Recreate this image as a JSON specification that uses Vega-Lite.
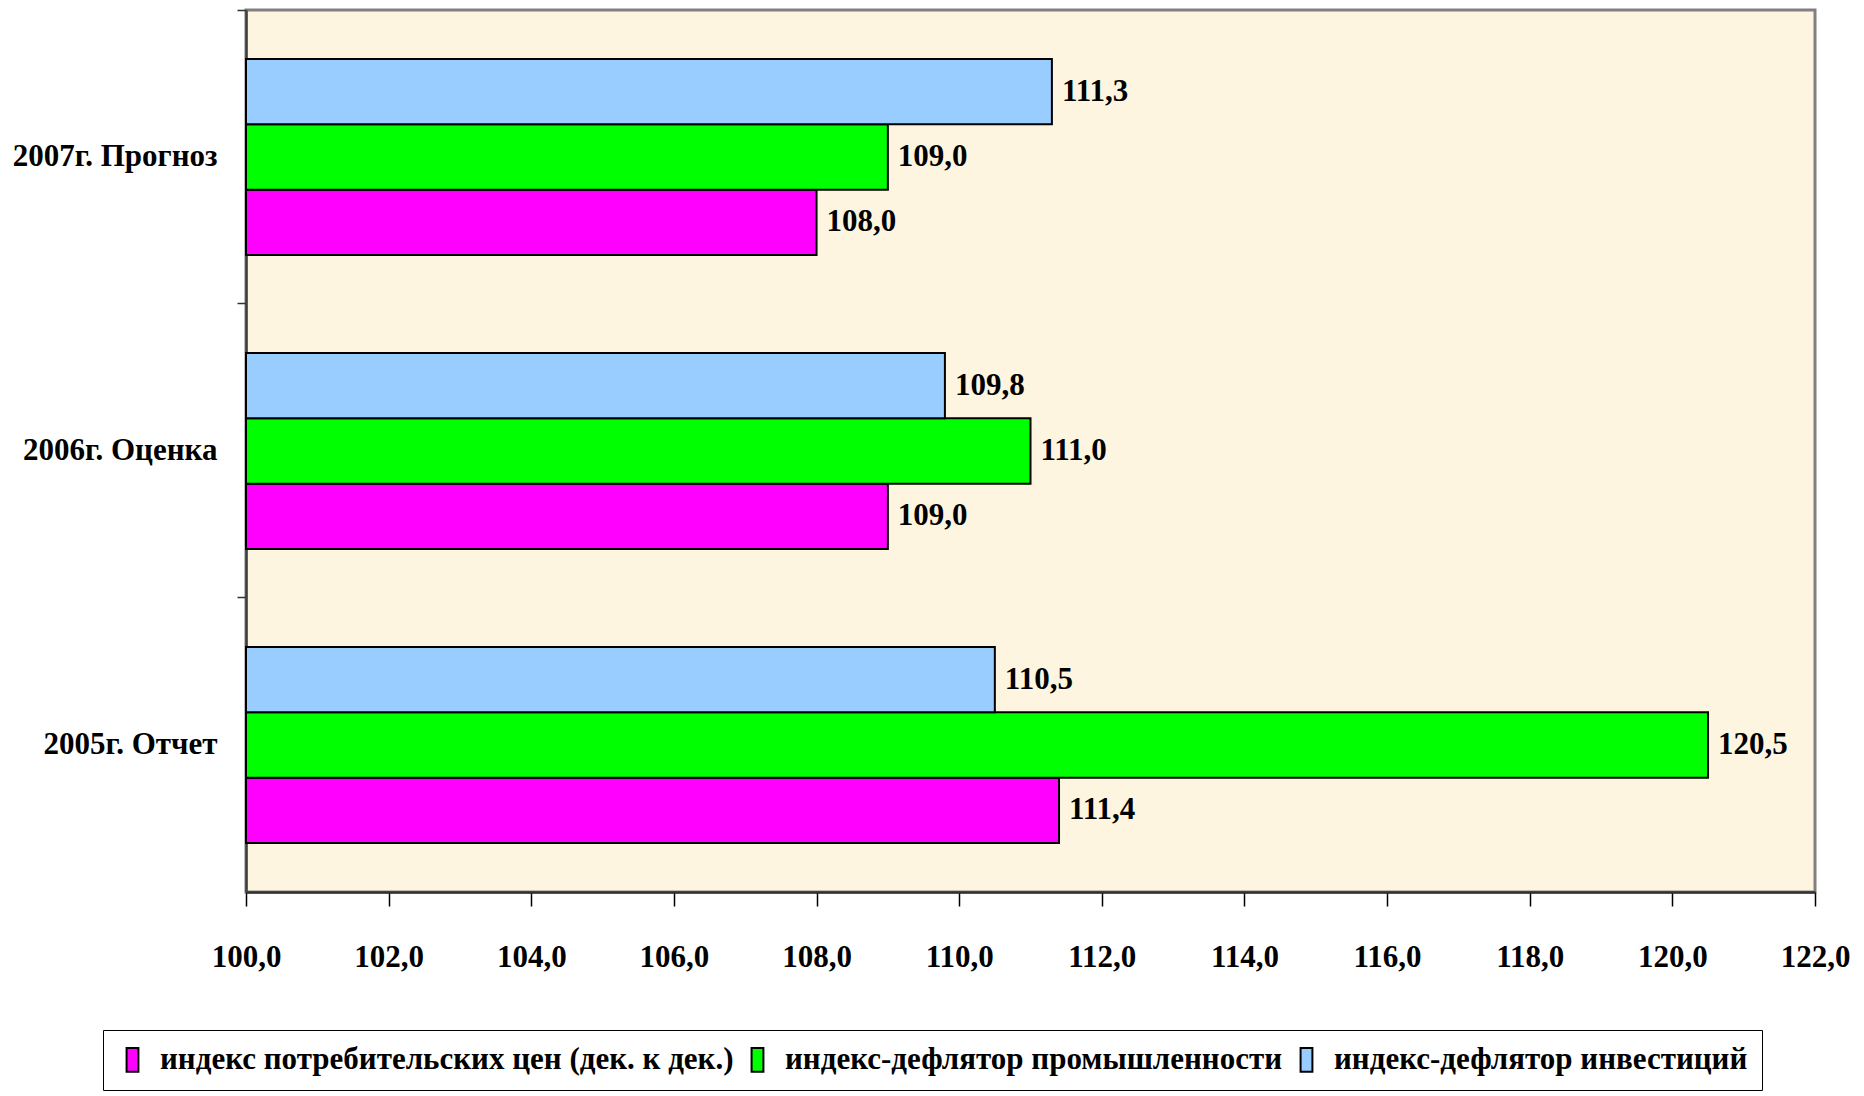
{
  "$schema": "https://vega.github.io/schema/vega-lite/v6.json",
  "width": 1569,
  "height": 882,
  "autosize": {"type": "none"},
  "padding": {"left": 246, "top": 10, "right": 49, "bottom": 204},
  "background": "white",
  "data": {
    "values": [
      {"year": "2007г. Прогноз", "series": "индекс потребительских цен (дек. к дек.)", "value": 108.0},
      {"year": "2007г. Прогноз", "series": "индекс-дефлятор промышленности", "value": 109.0},
      {"year": "2007г. Прогноз", "series": "индекс-дефлятор инвестиций", "value": 111.3},
      {"year": "2006г. Оценка", "series": "индекс потребительских цен (дек. к дек.)", "value": 109.0},
      {"year": "2006г. Оценка", "series": "индекс-дефлятор промышленности", "value": 111.0},
      {"year": "2006г. Оценка", "series": "индекс-дефлятор инвестиций", "value": 109.8},
      {"year": "2005г. Отчет", "series": "индекс потребительских цен (дек. к дек.)", "value": 111.4},
      {"year": "2005г. Отчет", "series": "индекс-дефлятор промышленности", "value": 120.5},
      {"year": "2005г. Отчет", "series": "индекс-дефлятор инвестиций", "value": 110.5}
    ]
  },
  "encoding": {
    "y": {
      "field": "year",
      "type": "nominal",
      "sort": ["2007г. Прогноз", "2006г. Оценка", "2005г. Отчет"],
      "scale": {"paddingInner": 0.3333, "paddingOuter": 0.1667},
      "axis": {
        "title": null,
        "labelFont": "Liberation Serif",
        "labelFontWeight": "bold",
        "labelFontSize": 31,
        "labelColor": "black",
        "labelPadding": 20,
        "labelLimit": 1000,
        "bandPosition": -0.25,
        "tickSize": 9,
        "tickColor": "#333333",
        "tickWidth": 1.5,
        "domainColor": "#404040",
        "domainWidth": 2.5
      }
    },
    "yOffset": {
      "field": "series",
      "type": "nominal",
      "sort": ["индекс-дефлятор инвестиций", "индекс-дефлятор промышленности", "индекс потребительских цен (дек. к дек.)"],
      "scale": {"paddingInner": 0, "paddingOuter": 0}
    },
    "x": {
      "field": "value",
      "type": "quantitative",
      "scale": {"domain": [100, 122], "zero": false, "nice": false},
      "axis": {
        "title": null,
        "values": [100, 102, 104, 106, 108, 110, 112, 114, 116, 118, 120, 122],
        "format": ".1f",
        "labelFont": "Liberation Serif",
        "labelFontWeight": "bold",
        "labelFontSize": 31,
        "labelColor": "black",
        "labelPadding": 36,
        "labelFlush": false,
        "labelBound": false,
        "labelOverlap": false,
        "tickSize": 14,
        "tickColor": "black",
        "tickWidth": 1.5,
        "domainColor": "#303030",
        "domainWidth": 2.5,
        "grid": false
      }
    }
  },
  "layer": [
    {
      "mark": {"type": "bar", "stroke": "black", "strokeWidth": 2},
      "encoding": {
        "x2": {"datum": 100},
        "color": {
          "field": "series",
          "type": "nominal",
          "scale": {
            "domain": ["индекс потребительских цен (дек. к дек.)", "индекс-дефлятор промышленности", "индекс-дефлятор инвестиций"],
            "range": ["#FF00FF", "#00FF00", "#99CCFF"]
          },
          "legend": {
            "title": null,
            "orient": "none",
            "legendX": -143,
            "legendY": 1020,
            "direction": "horizontal",
            "fillColor": "white",
            "strokeColor": "black",
            "padding": 14,
            "labelFont": "Liberation Serif",
            "labelFontWeight": "bold",
            "labelFontSize": 31,
            "labelColor": "black",
            "labelLimit": 1000,
            "labelOffset": 12,
            "columnPadding": 8,
            "symbolType": "M-0.5,-1H0.5V1H-0.5Z",
            "symbolSize": 560,
            "symbolStrokeColor": "black",
            "symbolStrokeWidth": 2,
            "symbolOpacity": 1
          }
        }
      }
    },
    {
      "mark": {
        "type": "text",
        "align": "left",
        "baseline": "middle",
        "dx": 10,
        "font": "Liberation Serif",
        "fontWeight": "bold",
        "fontSize": 31,
        "color": "black"
      },
      "encoding": {
        "text": {"field": "value", "type": "quantitative", "format": ".1f"}
      }
    }
  ],
  "config": {
    "locale": {
      "number": {"decimal": ",", "thousands": " ", "grouping": [3], "currency": ["", " руб."]}
    },
    "view": {"fill": "#FDF5DF", "stroke": "#808080", "strokeWidth": 3}
  }
}
